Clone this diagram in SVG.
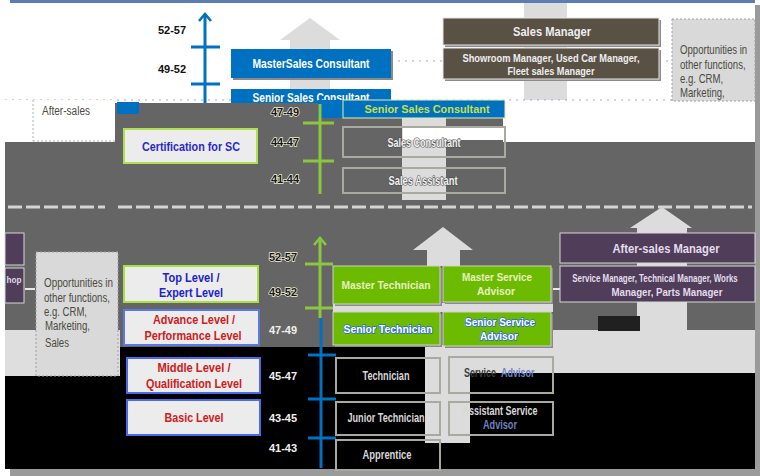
<svg xmlns="http://www.w3.org/2000/svg" width="760" height="476" viewBox="0 0 760 476">
<defs>
<style>
.t{font-family:"Liberation Sans Narrow","Liberation Sans",Arial,sans-serif;font-weight:bold;text-anchor:middle}
.s{font-family:"Liberation Sans Narrow","Liberation Sans",Arial,sans-serif;font-weight:bold}
.r{font-family:"Liberation Sans Narrow","Liberation Sans",Arial,sans-serif;fill:#4a4a40}
.age{font-family:"Liberation Sans",Arial,sans-serif;font-weight:bold;font-size:11px;text-anchor:middle}
.ageg{fill:#141428;stroke:#f2f2c8;stroke-width:1.4;paint-order:stroke}
.agek{fill:#f0f0f0}
.blue{fill:#0070c0}
.brown{fill:#5a5145;stroke:#e6e6e6;stroke-width:1}
.purple{fill:#4f3d5a;stroke:#d8d8d8;stroke-width:1}
.green{fill:#6cbb00;stroke:#d0d0d0;stroke-width:1}
.sh{fill:#8a8a8a}
.lvl{fill:#ececec;stroke-width:2}
.out{fill:none;stroke:#a9a9a0;stroke-width:2}
.opp{fill:#d9d9d9;stroke:#a0a0a8;stroke-width:1;stroke-dasharray:2,2}
.lg{fill:#dcdcdc}
.bl{stroke:#0070c0;stroke-width:3;fill:none}
.gl{stroke:#8cc63f;stroke-width:3;fill:none}
.dot{stroke:#9aaae0;stroke-width:1.2;stroke-dasharray:2,5;fill:none}
.halo{fill:#f2f2f2;stroke:#4a4a4a;stroke-width:1.2;paint-order:stroke}
</style>
<marker id="hb" markerWidth="12" markerHeight="14" refX="10" refY="7" orient="auto" markerUnits="userSpaceOnUse" viewBox="0 0 12 14">
<path d="M3,1 L10,7 L3,13" fill="none" stroke="#0070c0" stroke-width="2.6"/>
</marker>
<marker id="hg" markerWidth="12" markerHeight="14" refX="10" refY="7" orient="auto" markerUnits="userSpaceOnUse" viewBox="0 0 12 14">
<path d="M3,1 L10,7 L3,13" fill="none" stroke="#8cc63f" stroke-width="2.6"/>
</marker>
</defs>

<!-- page background and frame -->
<rect width="760" height="476" fill="#ffffff"/>
<rect x="10" y="0" width="745" height="3" fill="#5b7db3"/>
<rect x="755" y="5" width="5" height="471" fill="#9a9a9a"/>
<rect x="10" y="469" width="750" height="7" fill="#9a9a9a"/>

<!-- top section light arrows -->
<polygon points="310,18 340,40 330,40 330,89 290,89 290,40 280,40" class="lg"/>
<rect x="524" y="3" width="43" height="97" class="lg"/>
<line x1="5" y1="100" x2="752" y2="100" class="dot"/>

<g id="senior-sales-consultant-top">
<rect x="231" y="89" width="160" height="18" class="blue"/>
<text x="311" y="102" class="t" font-size="12" fill="#ffffff" textLength="117" lengthAdjust="spacingAndGlyphs">Senior Sales Consultant</text>
</g>

<!-- dark gray band, black and light regions -->
<polygon points="115,103 503,103 503,142 755,142 755,330 553,330 553,347 120,347 120,330 5,330 5,142 115,142" fill="#656565"/>
<rect x="5" y="330" width="115" height="46" fill="#dedede"/>
<polygon points="120,347 553,347 553,373 755,373 755,469 5,469 5,376 120,376" fill="#000000"/>
<rect x="425" y="345" width="330" height="28" class="lg"/>
<rect x="553" y="330" width="202" height="15" class="lg"/>
<rect x="425" y="345" width="45" height="98" class="lg"/>
<rect x="402" y="118" width="44" height="82" class="lg"/>
<polygon points="443,227 473,250 460,250 460,266 427,266 427,250 413,250" class="lg"/>
<rect x="333" y="303" width="220" height="9" class="lg"/>
<polygon points="662,207 692,228 687,228 687,330 637,330 637,228 630,228" class="lg"/>
<rect x="598" y="316" width="42" height="15" fill="#202020"/>
<rect x="117" y="102" width="22" height="12" fill="#0070c0"/>
<rect x="318" y="100" width="25" height="18" fill="#0070c0"/>

<!-- separator -->
<line x1="8" y1="207" x2="105" y2="207" stroke="#d4d4d4" stroke-width="3" stroke-dasharray="14,4"/>
<line x1="118" y1="207" x2="752" y2="207" stroke="#d4d4d4" stroke-width="3" stroke-dasharray="14,4"/>

<g id="connectors">
<line x1="205" y1="103" x2="205" y2="14" class="bl" marker-end="url(#hb)"/>
<line x1="191" y1="47" x2="220" y2="47" class="bl"/>
<line x1="191" y1="84" x2="220" y2="84" class="bl"/>
<line x1="391" y1="61" x2="443" y2="61" class="dot"/>
<line x1="659" y1="61" x2="672" y2="61" class="dot"/>
<line x1="320" y1="104" x2="320" y2="194" class="gl"/>
<line x1="303" y1="123" x2="334" y2="123" class="gl"/>
<line x1="303" y1="161" x2="334" y2="161" class="gl"/>
<line x1="320" y1="318" x2="320" y2="238" class="gl" marker-end="url(#hg)"/>
<line x1="305" y1="264" x2="333" y2="264" class="gl"/>
<line x1="305" y1="308" x2="333" y2="308" class="gl"/>
<line x1="321" y1="318" x2="321" y2="468" class="bl"/>
<line x1="308" y1="355" x2="336" y2="355" class="bl"/>
<line x1="308" y1="399" x2="336" y2="399" class="bl"/>
<line x1="308" y1="438" x2="336" y2="438" class="bl"/>
<line x1="25" y1="289" x2="35" y2="289" stroke="#e8e8e8" stroke-width="2"/>
<line x1="552" y1="289" x2="560" y2="289" stroke="#e8e8e8" stroke-width="2"/>
</g>

<!-- age labels -->
<g id="ages">
<text x="172" y="34" class="age" fill="#111">52-57</text>
<text x="172" y="73" class="age" fill="#111">49-52</text>
<text x="285" y="116" class="age ageg">47-49</text>
<text x="285" y="146" class="age ageg">44-47</text>
<text x="285" y="183" class="age ageg">41-44</text>
<text x="283" y="261" class="age ageg">52-57</text>
<text x="283" y="296" class="age ageg">49-52</text>
<text x="283" y="334" class="age agek">47-49</text>
<text x="283" y="380" class="age agek">45-47</text>
<text x="283" y="422" class="age agek">43-45</text>
<text x="283" y="452" class="age agek">41-43</text>
</g>

<g id="master-sales-consultant">
<rect x="233" y="51" width="160" height="29" class="sh"/>
<rect x="231" y="49" width="160" height="29" class="blue"/>
<text x="311" y="68" class="t" font-size="12" fill="#ffffff" textLength="117" lengthAdjust="spacingAndGlyphs">MasterSales Consultant</text>
</g>

<g id="sales-manager">
<rect x="445" y="20" width="216" height="27" class="sh"/>
<rect x="443" y="18" width="216" height="27" class="brown"/>
<text x="552" y="36" class="t" font-size="12.5" fill="#eeeeee" textLength="78" lengthAdjust="spacingAndGlyphs">Sales Manager</text>
</g>
<g id="sales-manager-roles">
<rect x="445" y="50" width="216" height="31" class="sh"/>
<rect x="443" y="48" width="216" height="31" class="brown"/>
<text x="551" y="62" class="t" font-size="11" fill="#eeeeee" textLength="177" lengthAdjust="spacingAndGlyphs">Showroom Manager, Used Car Manager,</text>
<text x="551" y="75" class="t" font-size="11" fill="#eeeeee" textLength="87" lengthAdjust="spacingAndGlyphs">Fleet sales Manager</text>
</g>

<g id="opportunities-sales">
<rect x="672" y="19" width="83" height="82" class="opp"/>
<text transform="translate(680,54) scale(0.8,1)" class="r" font-size="12">Opportunities in</text>
<text transform="translate(680,69) scale(0.8,1)" class="r" font-size="12">other functions,</text>
<text transform="translate(680,83) scale(0.8,1)" class="r" font-size="12">e.g. CRM,</text>
<text transform="translate(680,97) scale(0.8,1)" class="r" font-size="12">Marketing,</text>
</g>

<g id="after-sales-label">
<rect x="5" y="100" width="110" height="42" fill="#ffffff"/>
<line x1="33" y1="100" x2="33" y2="141" stroke="#b0b0b0" stroke-dasharray="2,2"/>
<line x1="33" y1="141" x2="115" y2="141" stroke="#b0b0b0" stroke-dasharray="2,2"/>
<text x="42" y="115" class="r" font-size="12" textLength="48" lengthAdjust="spacingAndGlyphs">After-sales</text>
</g>

<g id="senior-sales-consultant">
<rect x="343" y="100" width="162" height="18" class="blue" stroke="#e8f0a0" stroke-width="1"/>
<text x="427" y="113" class="t" font-size="11.5" fill="#c8e040" textLength="125" lengthAdjust="spacingAndGlyphs">Senior Sales Consultant</text>
</g>

<g id="certification-sc">
<rect x="124" y="129" width="133" height="34" class="lvl" stroke="#b0e050"/>
<text x="191" y="151" class="t" font-size="13.5" fill="#2a2ac8" textLength="98" lengthAdjust="spacingAndGlyphs">Certification for SC</text>
</g>

<g id="sales-consultant">
<rect x="403" y="128" width="100" height="12" fill="#ffffff"/>
<rect x="343" y="127" width="162" height="30" class="out"/>
<text x="424" y="147" class="t halo" font-size="12" textLength="73" lengthAdjust="spacingAndGlyphs">Sales Consultant</text>
</g>
<g id="sales-assistant">
<rect x="343" y="168" width="162" height="25" class="out"/>
<text x="423" y="185" class="t halo" font-size="12" textLength="69" lengthAdjust="spacingAndGlyphs">Sales Assistant</text>
</g>

<g id="workshop-left">
<rect x="5" y="233" width="19" height="32" class="purple"/>
<rect x="5" y="268" width="19" height="35" class="purple"/>
<text x="14" y="283" class="t" font-size="9" fill="#e0d8e8" textLength="15" lengthAdjust="spacingAndGlyphs">hop</text>
</g>

<g id="opportunities-aftersales">
<rect x="36" y="252" width="82" height="124" class="opp"/>
<text x="44" y="287" class="r" font-size="12" textLength="69" lengthAdjust="spacingAndGlyphs">Opportunities in</text>
<text x="44" y="302" class="r" font-size="12" textLength="66" lengthAdjust="spacingAndGlyphs">other functions,</text>
<text x="44" y="316" class="r" font-size="12" textLength="43" lengthAdjust="spacingAndGlyphs">e.g. CRM,</text>
<text x="45" y="330" class="r" font-size="12" textLength="45" lengthAdjust="spacingAndGlyphs">Marketing,</text>
<text x="45" y="347" class="r" font-size="12" textLength="24" lengthAdjust="spacingAndGlyphs">Sales</text>
</g>

<g id="top-level">
<rect x="124" y="266" width="134" height="36" class="lvl" stroke="#a8e040"/>
<text x="191" y="282" class="t" font-size="13.5" fill="#1e1ecc" textLength="57" lengthAdjust="spacingAndGlyphs">Top Level /</text>
<text x="191" y="297" class="t" font-size="13.5" fill="#1e1ecc" textLength="64" lengthAdjust="spacingAndGlyphs">Expert Level</text>
</g>
<g id="advance-level">
<rect x="124" y="310" width="135" height="35" class="lvl" stroke="#5a78e8"/>
<text x="194" y="324" class="t" font-size="13.5" fill="#cc2020" textLength="82" lengthAdjust="spacingAndGlyphs">Advance Level /</text>
<text x="193" y="340" class="t" font-size="13.5" fill="#cc2020" textLength="97" lengthAdjust="spacingAndGlyphs">Performance Level</text>
</g>
<g id="middle-level">
<rect x="127" y="358" width="133" height="35" class="lvl" stroke="#4a6aee"/>
<text x="194" y="372" class="t" font-size="13.5" fill="#cc2020" textLength="73" lengthAdjust="spacingAndGlyphs">Middle Level /</text>
<text x="194" y="388" class="t" font-size="13.5" fill="#cc2020" textLength="96" lengthAdjust="spacingAndGlyphs">Qualification Level</text>
</g>
<g id="basic-level">
<rect x="127" y="400" width="133" height="35" class="lvl" stroke="#4a6aee"/>
<text x="194" y="422" class="t" font-size="13.5" fill="#cc2020" textLength="59" lengthAdjust="spacingAndGlyphs">Basic Level</text>
</g>

<g id="master-technician">
<rect x="335" y="268" width="107" height="38" class="sh"/>
<rect x="333" y="266" width="107" height="38" class="green"/>
<text x="386" y="289" class="t" font-size="11.5" fill="#e8f0c0" textLength="89" lengthAdjust="spacingAndGlyphs">Master Technician</text>
</g>
<g id="master-service-advisor">
<rect x="445" y="268" width="108" height="36" class="sh"/>
<rect x="443" y="266" width="108" height="36" class="green"/>
<text x="497" y="281" class="t" font-size="11.5" fill="#e8f0c0" textLength="70" lengthAdjust="spacingAndGlyphs">Master Service</text>
<text x="496" y="295" class="t" font-size="11.5" fill="#e8f0c0" textLength="38" lengthAdjust="spacingAndGlyphs">Advisor</text>
</g>
<g id="senior-technician">
<rect x="335" y="314" width="107" height="33" class="sh"/>
<rect x="333" y="312" width="107" height="33" class="green"/>
<text x="388" y="333" class="t" font-size="11.5" fill="#ffffff" stroke="#2a6ad0" stroke-width="1.6" paint-order="stroke" textLength="89" lengthAdjust="spacingAndGlyphs">Senior Technician</text>
</g>
<g id="senior-service-advisor">
<rect x="445" y="314" width="108" height="34" class="sh"/>
<rect x="443" y="312" width="108" height="34" class="green"/>
<text x="500" y="326" class="t" font-size="11.5" fill="#ffffff" stroke="#2a6ad0" stroke-width="1.6" paint-order="stroke" textLength="70" lengthAdjust="spacingAndGlyphs">Senior Service</text>
<text x="499" y="340" class="t" font-size="11.5" fill="#ffffff" stroke="#2a6ad0" stroke-width="1.6" paint-order="stroke" textLength="38" lengthAdjust="spacingAndGlyphs">Advisor</text>
</g>

<g id="after-sales-manager">
<rect x="560" y="233" width="195" height="30" class="purple"/>
<text x="666" y="253" class="t" font-size="12.5" fill="#e4dcec" textLength="107" lengthAdjust="spacingAndGlyphs">After-sales Manager</text>
</g>
<g id="after-sales-roles">
<rect x="560" y="266" width="195" height="36" class="purple"/>
<text transform="translate(655,282) scale(0.72,1)" class="t" font-size="11" fill="#e4dcec">Service Manager, Technical Manager, Works</text>
<text x="667" y="296" class="t" font-size="11" fill="#e4dcec" textLength="111" lengthAdjust="spacingAndGlyphs">Manager,  Parts Manager</text>
</g>

<g id="technician">
<rect x="336" y="358" width="104" height="35" class="out"/>
<text x="386" y="380" class="t" font-size="12" fill="#d8d8d8" textLength="47" lengthAdjust="spacingAndGlyphs">Technician</text>
</g>
<g id="junior-technician">
<rect x="336" y="402" width="104" height="33" class="out"/>
<text x="386" y="422" class="t" font-size="12" fill="#d8d8d8" textLength="77" lengthAdjust="spacingAndGlyphs">Junior Technician</text>
</g>
<g id="apprentice">
<rect x="336" y="440" width="104" height="30" class="out"/>
<text x="387" y="459" class="t" font-size="12" fill="#d8d8d8" textLength="49" lengthAdjust="spacingAndGlyphs">Apprentice</text>
</g>
<g id="service-advisor">
<rect x="449" y="357" width="104" height="36" class="out"/>
<text transform="translate(464,377) scale(0.75,1)" class="s" font-size="12" fill="#3a3a3a">Service</text>
<text transform="translate(501,377) scale(0.75,1)" class="s" font-size="12" fill="#7080c0">Advisor</text>
</g>
<g id="assistant-service-advisor">
<rect x="449" y="402" width="104" height="33" class="out"/>
<text x="500" y="415" class="t" font-size="12" fill="#d8d8d8" textLength="75" lengthAdjust="spacingAndGlyphs">Assistant Service</text>
<text x="500" y="429" class="t" font-size="12" fill="#7080c0" textLength="34" lengthAdjust="spacingAndGlyphs">Advisor</text>
</g>
</svg>
